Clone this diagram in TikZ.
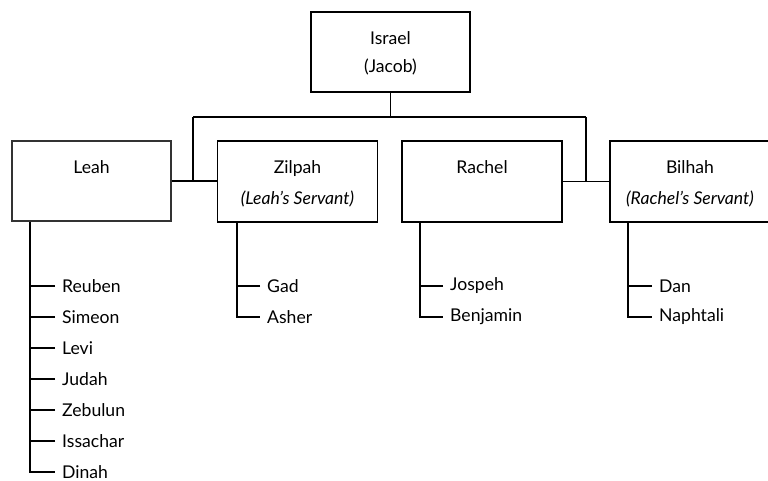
\documentclass[tikz,border=0pt]{standalone}
\usepackage{fontspec}
\setmainfont{Lato}
\usetikzlibrary{calc}
\begin{document}
\begin{tikzpicture}[x=1pt,y=-1pt,
  famous/.style={draw=black,line width=1.8pt,minimum width=160pt,minimum height=81pt,inner sep=0pt},
  leahbox/.style={draw=black!80,line width=1.3pt,minimum width=159pt,minimum height=80pt,inner sep=0pt},
  lbl/.style={font=\fontsize{17.6}{20}\selectfont,inner sep=0pt,anchor=base},
  kid/.style={font=\fontsize{17.6}{20}\selectfont,anchor=west,inner xsep=7pt,inner ysep=0pt},
  conn/.style={line width=1.8pt}]
\useasboundingbox (0,0) rectangle (768,480);
% boxes
\node[famous,minimum width=159pt,minimum height=80pt] (israel) at (390.5,52) {};
\node[leahbox] (leah) at (91.5,181) {};
\node[famous] (zilpah) at (297.5,181.5) {};
\node[famous] (rachel) at (482,181.5) {};
\node[famous] (bilhah) at (690,181.5) {};
% labels
\node[lbl] (israelA) at (390.5,44) {Israel};
\node[lbl] (israelB) at (390.5,72) {(Jacob)};
\node[lbl] (leahA) at (91.5,173) {Leah};
\node[lbl] (zilpahA) at (297.5,173) {Zilpah};
\node[lbl] (zilpahB) at (297.5,204) {\textit{(Leah's Servant)}};
\node[lbl] (rachelA) at (482,173) {Rachel};
\node[lbl] (bilhahA) at (690,173) {Bilhah};
\node[lbl] (bilhahB) at (690,204) {\textit{(Rachel's Servant)}};
% bus
\coordinate (busL) at (193,117);
\coordinate (busR) at (586,117);
\draw[conn] (israel.south) -- (israel.south |- busL);
\draw[conn] (busL) -- (busR);
\draw[conn] (busL) -- (busL |- leah.east);
\draw[conn] (busR) -- (busR |- rachel.east);
\draw[conn] (leah.east) -- (leah.east -| zilpah.west);
\draw[conn] (rachel.east) -- (bilhah.west);
% trunks
\coordinate (tL) at ($(leah.south west)+(19,0)$);
\coordinate (tZ) at ($(zilpah.south west)+(20,0)$);
\coordinate (tR) at ($(rachel.south west)+(19,0)$);
\coordinate (tB) at ($(bilhah.south west)+(19,0)$);
% Leah's children
\node[kid] (reuben) at (55,286) {Reuben};
\node[kid] (simeon) at (55,317) {Simeon};
\node[kid] (levi) at (55,348) {Levi};
\node[kid] (judah) at (55,379) {Judah};
\node[kid] (zebulun) at (55,410) {Zebulun};
\node[kid] (issachar) at (55,441) {Issachar};
\node[kid] (dinah) at (55,472) {Dinah};
\draw[conn] (tL) |- (dinah.west);
\foreach \k in {reuben,simeon,levi,judah,zebulun,issachar}
  \draw[conn] (\k.west) -- (\k.west -| tL);
% Zilpah
\node[kid] (gad) at (260,286) {Gad};
\node[kid] (asher) at (260,317) {Asher};
\draw[conn] (tZ) |- (asher.west);
\draw[conn] (gad.west) -- (gad.west -| tZ);
% Rachel
\node[kid] (joseph) at (443,286) {Jospeh};
\node[kid] (benjamin) at (443,317) {Benjamin};
\draw[conn] (tR) |- (benjamin.west);
\draw[conn] (joseph.west) -- (joseph.west -| tR);
% Bilhah
\node[kid] (dan) at (652,286) {Dan};
\node[kid] (naphtali) at (652,317) {Naphtali};
\draw[conn] (tB) |- (naphtali.west);
\draw[conn] (dan.west) -- (dan.west -| tB);
\end{tikzpicture}
\end{document}
